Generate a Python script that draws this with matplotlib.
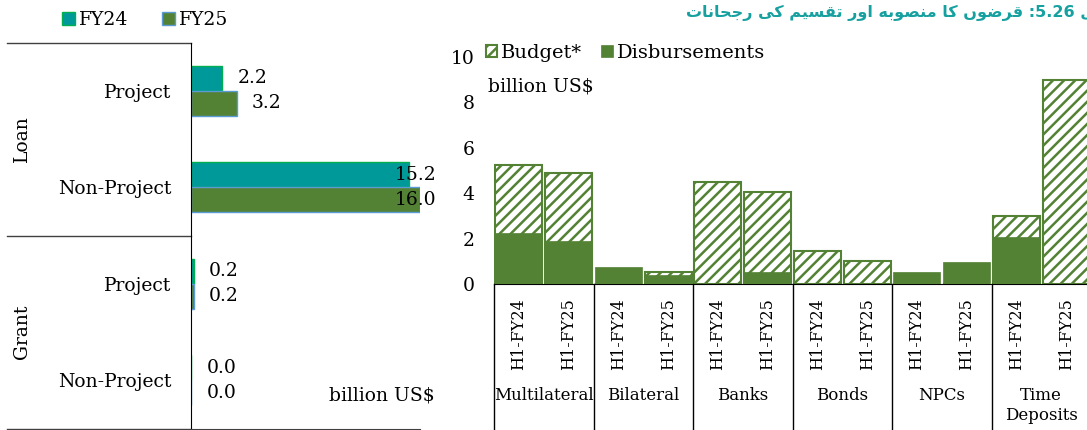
import numpy as np
import matplotlib
matplotlib.use("Agg")
import matplotlib.pyplot as plt
import matplotlib.transforms as mtransforms

# left panel: loans and grants
fin_rows = ["Project", "Non-Project", "Project", "Non-Project"]
fin_groups = ["Loan", "Grant"]
fy24 = [2.2, 15.2, 0.2, 0.0]
fy25 = [3.2, 16.0, 0.2, 0.0]

# right panel: budget vs disbursements by source
sources = ["Multilateral", "Bilateral", "Banks", "Bonds", "NPCs", "Time\nDeposits"]
periods = ["H1-FY24", "H1-FY25"]
budget = [5.24, 4.90, 0.0, 0.51, 4.48, 4.07, 1.47, 1.01, 0.0, 0.0, 3.01, 8.99]
disbursed = [2.23, 1.89, 0.76, 0.40, 0.0, 0.52, 0.0, 0.0, 0.51, 0.95, 2.06, 0.0]

title_ur = "شکل 5.26: قرضوں کا منصوبہ اور تقسیم کے رجحانات"

# presentation forms: (isolated, final, initial, medial); two-form letters join on the right only
# heh goal and yeh barree fall back to the nearest forms the font carries
FORMS = {
    "ا": (0xFE8D, 0xFE8E), "ب": (0xFE8F, 0xFE90, 0xFE91, 0xFE92),
    "ت": (0xFE95, 0xFE96, 0xFE97, 0xFE98), "ج": (0xFE9D, 0xFE9E, 0xFE9F, 0xFEA0),
    "ح": (0xFEA1, 0xFEA2, 0xFEA3, 0xFEA4), "ر": (0xFEAD, 0xFEAE),
    "س": (0xFEB1, 0xFEB2, 0xFEB3, 0xFEB4), "ش": (0xFEB5, 0xFEB6, 0xFEB7, 0xFEB8),
    "ص": (0xFEB9, 0xFEBA, 0xFEBB, 0xFEBC), "ض": (0xFEBD, 0xFEBE, 0xFEBF, 0xFEC0),
    "ق": (0xFED5, 0xFED6, 0xFED7, 0xFED8), "ل": (0xFEDD, 0xFEDE, 0xFEDF, 0xFEE0),
    "م": (0xFEE1, 0xFEE2, 0xFEE3, 0xFEE4), "ن": (0xFEE5, 0xFEE6, 0xFEE7, 0xFEE8),
    "و": (0xFEED, 0xFEEE), "ک": (0xFB8E, 0xFB8F, 0xFB90, 0xFB91),
    "ں": (0xFB9E, 0xFB9F), "ہ": (0xFEE9, 0xFEEA, 0xFEEB, 0xFEEC),
    "ی": (0xFBFC, 0xFBFD, 0xFBFE, 0xFBFF), "ے": (0xFBFC, 0xFBFD),
}


def shape(word):
    out = []
    for i, ch in enumerate(word):
        prev = i > 0 and len(FORMS[word[i - 1]]) == 4
        nxt = i < len(word) - 1 and len(FORMS[ch]) == 4
        k = 3 if (prev and nxt) else 1 if prev else 2 if nxt else 0
        out.append(chr(FORMS[ch][k]))
    return "".join(out)


def to_visual(text):
    out = []
    for word in text.split(" "):
        if word[0] in FORMS:
            out.append(shape(word)[::-1])
        elif word.endswith(":"):
            out.append(":" + word[:-1])
        else:
            out.append(word)
    return " ".join(out[::-1])


plt.rcParams["font.family"] = "DejaVu Serif"
plt.rcParams["font.size"] = 13.5
plt.rcParams["hatch.linewidth"] = 1.8

W, H = 1087, 430
fig = plt.figure(figsize=(W / 100, H / 100), dpi=100)

TEAL = "#009999"
GREEN = "#548235"

# ---- left: horizontal bars ----
ax1 = fig.add_axes([191 / W, 1.5 / H, 229 / W, (429 - 43) / H])
y = np.arange(len(fin_rows))
bh = 0.26
ax1.barh(y - bh / 2, fy24, height=bh, color=TEAL, edgecolor="#00b050", lw=1, label="FY24")
ax1.barh(y + bh / 2, fy25, height=bh, color=GREEN, edgecolor="#5b9bd5", lw=1, label="FY25")
ax1.set_ylim(3.5, -0.5)
ax1.set_xlim(0, 16)
ax1.set_yticks(y, fin_rows)
ax1.tick_params(axis="y", length=0, pad=14)
ax1.set_xticks([])
for s in ["top", "right"]:
    ax1.spines[s].set_visible(False)
ax1.spines["bottom"].set_color("#404040")

xmax = ax1.get_xlim()[1]
for vals, off in [(fy24, -bh / 2), (fy25, bh / 2)]:
    for yi, v in zip(y, vals):
        if v > 0.8 * xmax:
            ax1.annotate(f"{v:.1f}", (xmax, yi + off), xytext=(12, 0), textcoords="offset points",
                         ha="right", va="center")
        else:
            ax1.annotate(f"{v:.1f}", (v, yi + off), xytext=(11, 0), textcoords="offset points",
                         ha="left", va="center")

tr1 = mtransforms.blended_transform_factory(ax1.transAxes, ax1.transData)
for yl in [-0.5, 1.5, 3.5]:
    ax1.plot([(7 - 191) / 229, 0], [yl, yl], transform=tr1, color="#404040", lw=1, clip_on=False)
for gi, g in enumerate(fin_groups):
    ax1.text((22 - 191) / 229, 0.5 + 2 * gi, g, transform=tr1, rotation=90, ha="center", va="center")
ax1.text((435 - 191) / 229, (430 - 397) / 386, "billion US$", transform=ax1.transAxes,
         ha="right", va="center")
fig.legend(handles=ax1.get_legend_handles_labels()[0], loc="center left",
           bbox_to_anchor=(54 / W, 1 - 20 / H), ncol=2, frameon=False, handlelength=0.7,
           handleheight=0.7, handletextpad=0.25, columnspacing=1.75, borderaxespad=0)

# ---- right: budget vs disbursements ----
ax2 = fig.add_axes([494 / W, (430 - 284) / H, 597 / W, 227 / H])
x = np.arange(len(budget))
ax2.bar(x, budget, width=0.94, color="white", edgecolor=GREEN, hatch="///", lw=1.5,
        label="Budget*", zorder=2)
ax2.bar(x, disbursed, width=0.94, color=GREEN, edgecolor=GREEN, lw=0.5,
        label="Disbursements", zorder=3)
ax2.set_xlim(-0.5, len(budget) - 0.5)
ax2.set_ylim(0, 10)
ax2.set_yticks(np.arange(0, 11, 2))
ax2.tick_params(axis="y", length=0, pad=14)
ax2.set_xticks(x, periods * len(sources), rotation=90, va="top", fontsize=11.5)
ax2.tick_params(axis="x", length=0, pad=10)
for s in ["top", "right", "left"]:
    ax2.spines[s].set_visible(False)
ax2.spines["bottom"].set_color("black")

tr2 = mtransforms.blended_transform_factory(ax2.transData, ax2.transAxes)
for xb in np.arange(-0.5, len(budget), 2):
    ax2.plot([xb, xb], [0, -0.65], transform=tr2, color="black", lw=1, clip_on=False)
for i, name in enumerate(sources):
    ax2.text(2 * i + 0.5, -0.455, name, transform=tr2, ha="center", va="top",
             linespacing=1.2, fontsize=12)
ax2.text(-0.62, 0.87, "billion US$", transform=tr2, ha="left", va="center")
ax2.legend(loc="center left", bbox_to_anchor=(478 / W, 1 - 53 / H),
           bbox_transform=fig.transFigure, ncol=2, frameon=False, handlelength=0.58,
           handleheight=0.58, handletextpad=0.2, columnspacing=1.0, borderaxespad=0,
           fontsize=14)

fig.text(1.03, 1 - 13 / H, to_visual(title_ur), ha="right", va="center", color="#17a0a0",
         fontsize=11.5, fontweight="bold", family=["DejaVu Sans"])

fig.savefig("out.png", dpi=100)
